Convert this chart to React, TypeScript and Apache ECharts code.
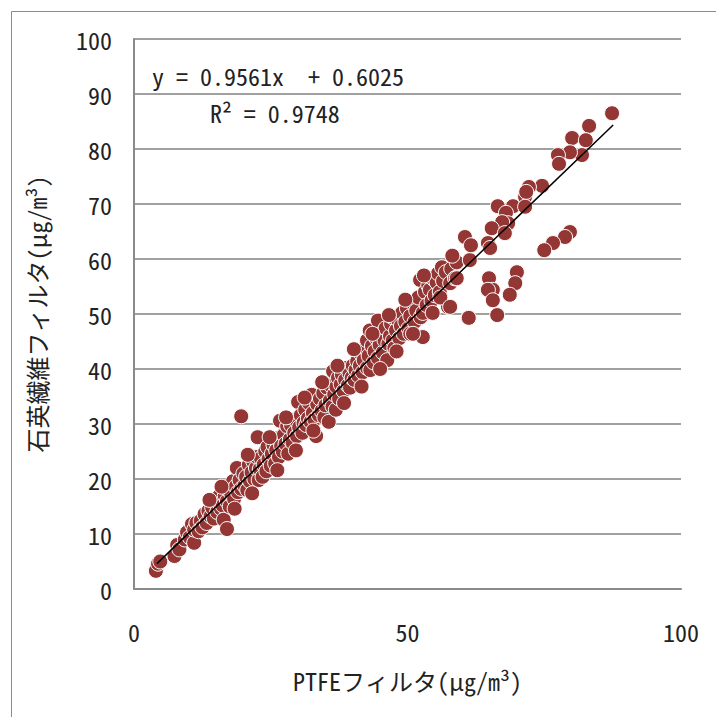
import React, { useEffect, useRef } from "react";
import * as echarts from "echarts";

// PTFE filter (x) vs quartz fibre filter (y), µg/m3
const bandX = [
  4.0, 4.4, 4.8, 7.4, 7.9, 8.3, 9.3, 9.7, 10.2, 10.6, 11.0, 11.0, 11.4, 11.8, 12.2,
  12.5, 12.9, 13.3, 13.6, 14.0, 14.3, 14.6, 15.0, 15.2, 15.6, 15.9,
  16.2, 16.4, 16.6, 17.0, 17.0, 17.3, 17.5, 17.8, 18.1, 18.3, 18.6, 18.8, 19.0, 19.3, 19.6, 19.6,
  20.0, 20.2, 20.5, 20.7, 21.0, 21.2, 21.5, 21.8, 22.0, 22.3, 22.5, 22.6, 22.8, 23.0, 23.2, 23.5, 23.7, 24.0, 24.2, 24.4, 24.6,
  25.0, 25.2, 25.5, 25.8, 26.0, 26.3, 26.5, 26.7, 26.9, 27.2, 27.4, 27.7, 28.0, 28.2, 28.5, 28.7, 29.0, 29.3, 29.5, 29.8,
  30.0, 30.2, 30.5, 30.8, 31.0, 31.3, 31.5, 31.8, 32.0, 32.3, 32.5, 32.7, 33.0, 33.3, 33.5, 33.8, 34.0, 34.3,
  34.6, 34.8, 35.0, 35.3, 35.6, 35.8, 36.0, 36.3, 36.4, 36.6, 36.9, 37.0, 37.3, 37.5, 37.8, 38.0, 38.3, 38.6, 38.9, 39.1, 39.4, 39.5, 39.8,
  40.0, 40.3, 40.5, 40.8, 41.0, 41.3, 41.5, 41.8, 42.0, 42.3, 42.6, 42.6, 42.9, 43.1, 43.2, 43.5, 43.8, 44.0, 44.3, 44.6, 44.6, 44.9,
  45.2, 45.5, 45.8, 46.0, 46.3, 46.5, 46.8, 47.0, 47.3, 47.3, 47.6, 47.9, 48.2, 48.5, 48.8, 49.0, 49.3, 49.6, 49.9, 50.2, 50.5, 50.5,
  51.0, 51.3, 51.6, 52.0, 52.3, 52.4, 52.8, 52.8, 53.2, 53.5, 53.8, 54.1, 54.4, 54.7, 55.0, 55.3, 55.6, 55.9, 56.3, 56.5,
  57.0, 57.4, 57.8, 58.0, 58.7, 59.0, 61.1, 61.4, 60.5, 61.6,
  13.8, 16.0, 18.4, 20.8, 21.6, 24.8, 26.2, 27.8, 29.6, 31.2, 32.8, 34.4, 37.2, 38.4, 40.2, 41.6,
  43.6, 45.0, 46.6, 48.0, 49.6, 51.0, 53.0, 54.6, 56.0, 58.2,
];
const bandY = [
  3.3, 4.6, 5.0, 6.0, 8.0, 7.2, 9.0, 10.3, 9.4, 11.8, 8.4, 10.8, 12.0, 10.5, 12.4,
  11.2, 13.6, 12.0, 14.2, 13.2, 14.8, 12.8, 15.6, 14.0, 16.9, 14.6,
  15.2, 12.6, 17.0, 10.9, 16.0, 18.0, 15.0, 17.2, 19.6, 16.4, 18.6, 22.0, 17.6, 19.8, 31.4, 18.2,
  21.0, 18.8, 20.4, 18.0, 22.6, 19.6, 21.2, 23.2, 20.0, 22.0, 24.0, 27.6, 19.8, 21.8, 23.8, 20.4, 22.6, 25.0, 21.4, 25.8, 23.6,
  22.4, 24.6, 26.2, 22.8, 25.2, 27.4, 24.0, 30.6, 26.0, 25.0, 28.0, 26.4, 29.6, 24.6, 27.2, 29.8, 26.6, 28.4, 30.8, 27.8,
  34.0, 29.4, 31.6, 28.4, 30.2, 32.6, 29.8, 31.0, 33.8, 30.4, 35.3, 32.0, 30.8, 27.8, 33.6, 31.6, 34.6, 32.4,
  35.6, 31.2, 33.4, 36.6, 30.4, 34.2, 37.0, 33.2, 39.6, 35.4, 32.6, 36.8, 38.4, 34.6, 37.2, 39.0, 36.0, 38.0, 40.2, 37.0, 39.2, 36.6, 38.4,
  40.6, 38.0, 39.8, 41.4, 38.8, 40.6, 42.8, 39.4, 41.6, 43.8, 40.2, 45.2, 42.4, 47.0, 39.8, 44.2, 41.2, 43.2, 45.6, 48.8, 42.0, 44.4,
  46.4, 43.0, 45.2, 47.4, 41.6, 44.6, 46.0, 48.2, 49.4, 45.2, 43.8, 47.0, 49.0, 45.6, 47.8, 50.2, 46.4, 48.6, 51.0, 47.4, 46.4, 49.6,
  52.0, 48.6, 50.6, 53.0, 56.2, 49.4, 50.2, 45.8, 54.0, 51.6, 55.2, 54.4, 52.4, 56.4, 53.4, 55.8, 57.4, 54.0, 58.5, 56.0,
  57.6, 51.3, 55.6, 58.2, 56.5, 59.4, 49.3, 59.8, 64.0, 62.5,
  16.2, 18.6, 14.6, 24.4, 17.4, 27.6, 21.6, 31.2, 25.2, 34.8, 28.8, 37.6, 40.6, 33.8, 43.6, 36.8,
  46.4, 40.0, 49.8, 43.2, 52.6, 46.4, 57.0, 50.2, 53.0, 60.6,
];
const upperX = [
  87.4, 83.2, 80.1, 82.6, 81.9, 79.7, 77.5, 77.7, 74.6, 72.2, 71.5, 71.7, 66.5, 69.3, 71.5,
  68.0, 68.4, 67.3, 65.4, 67.8, 64.7, 65.1, 58.7,
];
const upperY = [
  86.5, 84.2, 82.0, 81.6, 78.9, 79.4, 78.9, 77.3, 73.3, 73.1, 71.3, 72.2, 69.6, 69.6, 69.5,
  68.4, 66.5, 66.7, 65.6, 64.7, 62.9, 62.0, 56.5,
];
const lowerX = [79.7, 78.8, 76.6, 75.0, 70.0, 69.7, 68.7, 64.9, 65.6, 64.7, 65.6, 66.4, 61.2, 59.0, 57.8];
const lowerY = [64.9, 64.0, 62.9, 61.6, 57.6, 55.6, 53.5, 56.5, 54.4, 54.4, 52.5, 49.8, 49.3, 56.5, 51.3];

const slope = 0.9561;
const intercept = 0.6025;
const fitRange = [4.2, 87.6];
const xTicks = { min: 0, max: 100, interval: 50 };
const yTicks = { min: 0, max: 100, interval: 10 };

const FONT = "'Noto Sans Mono CJK JP', 'Noto Sans CJK JP', 'Liberation Mono', monospace";

export default function App() {
  const ref = useRef<HTMLDivElement>(null);
  useEffect(() => {
    if (!ref.current) return;
    const chart = echarts.init(ref.current, undefined, { renderer: "svg" });
    const pts: number[][] = [];
    bandX.forEach((x, i) => pts.push([x, bandY[i]]));
    upperX.forEach((x, i) => pts.push([x, upperY[i]]));
    lowerX.forEach((x, i) => pts.push([x, lowerY[i]]));
    const fit = fitRange.map((x) => [x, slope * x + intercept]);
    chart.setOption({
      animation: false,
      backgroundColor: "#fff",
      grid: { left: 134, top: 39, right: 35, bottom: 128 },
      xAxis: {
        type: "value",
        ...xTicks,
        axisLine: { show: true, lineStyle: { color: "#8a8a8a", width: 2 } },
        axisTick: { show: false },
        splitLine: { show: false },
        axisLabel: { color: "#222", fontSize: 24, fontFamily: FONT, margin: 30 },
        name: "PTFEフィルタ(μg/m³)",
        nameLocation: "middle",
        nameGap: 79,
        nameTextStyle: { color: "#222", fontSize: 24, fontFamily: FONT },
      },
      yAxis: {
        type: "value",
        ...yTicks,
        axisLine: { show: true, lineStyle: { color: "#8a8a8a", width: 2 } },
        axisTick: { show: false },
        splitLine: { show: true, lineStyle: { color: "#a0a0a0", width: 2 } },
        axisLabel: { color: "#222", fontSize: 24, fontFamily: FONT, margin: 22 },
        name: "石英繊維フィルタ(μg/m³)",
        nameLocation: "middle",
        nameRotate: 90,
        nameGap: 86,
        nameTextStyle: { color: "#222", fontSize: 24, fontFamily: FONT },
      },
      graphic: [
        {
          type: "rect",
          shape: { x: 11.5, y: 11.5, width: 760, height: 760 },
          style: { fill: "none", stroke: "#8c8c8c", lineWidth: 1 },
          silent: true,
        },
        {
          type: "text",
          left: 152,
          top: 63,
          style: { text: "y = 0.9561x  + 0.6025", fontSize: 24, fontFamily: FONT, fill: "#222" },
          z: 100,
        },
        {
          type: "text",
          left: 210,
          top: 100,
          style: { text: "R² = 0.9748", fontSize: 24, fontFamily: FONT, fill: "#222" },
          z: 100,
        },
      ],
      series: [
        {
          type: "scatter",
          data: pts,
          symbolSize: 15,
          itemStyle: { color: "#943634", borderColor: "#fff", borderWidth: 1, opacity: 1 },
          z: 2,
        },
        {
          type: "line",
          data: fit,
          symbol: "none",
          lineStyle: { color: "#000", width: 1.5 },
          z: 3,
        },
      ],
    });
    return () => chart.dispose();
  }, []);
  return (
    <div
      ref={ref}
      style={{ position: "fixed", left: 0, top: 0, width: 716, height: 717 }}
    />
  );
}
